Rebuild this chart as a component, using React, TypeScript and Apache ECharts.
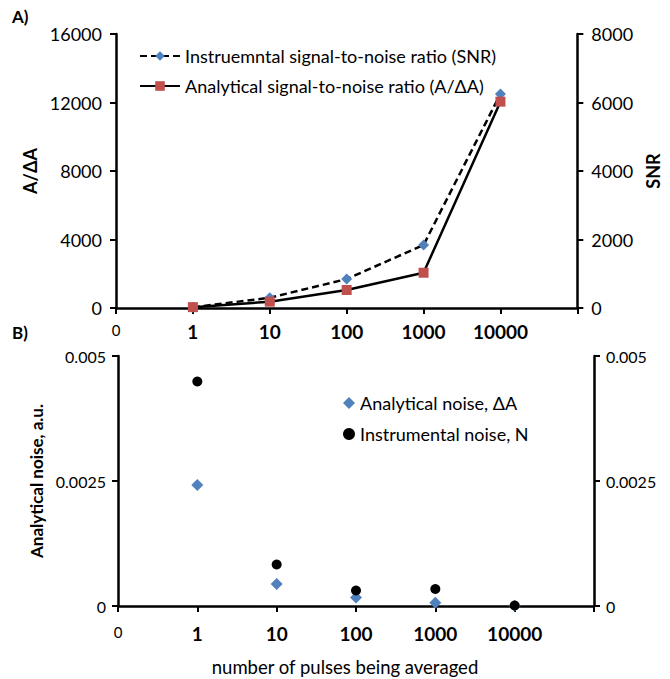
import React, { useEffect, useRef } from "react";
import * as echarts from "echarts";

const xTickLabels = ["0", "1", "10", "100", "1000", "10000", ""];
const xPositions = [1, 2, 3, 4, 5];

const snrValues = [20, 300, 845, 1840, 6250];
const adaValues = [50, 370, 1050, 2060, 12050];

const analyticalNoise = [0.00242, 0.00044, 0.00017, 0.000065, 0.000003];
const instrumentalNoise = [0.00449, 0.00083, 0.00031, 0.00034, 0.00001];

const FONT = "Lato";

const pair = (vals: number[]) => vals.map((v, i) => [xPositions[i], v]);

const xLabelFmt = (v: number) => {
  const t = xTickLabels[Math.round(v)] ?? "";
  if (t === "") return "";
  return v === 0 ? "{s|" + t + "}" : "{b|" + t + "}";
};
const plainFmt = (v: number) => String(v);

export default function App() {
  const ref = useRef<HTMLDivElement>(null);
  useEffect(() => {
    if (!ref.current) return;
    const chart = echarts.init(ref.current, null, { renderer: "svg" });
    const axisLine = { show: true, lineStyle: { color: "#000", width: 2.5 } };
    const axisTick = { show: true, inside: false, length: 6, lineStyle: { color: "#000", width: 2 } };
    const xAxisBase = (grid: number, margin: number) => ({
      type: "value",
      gridIndex: grid,
      min: 0,
      max: 6,
      interval: 1,
      axisLine,
      axisTick,
      splitLine: { show: false },
      axisLabel: {
        margin,
        formatter: xLabelFmt,
        rich: {
          s: { fontFamily: FONT, fontSize: 15, color: "#000", padding: [0, 0, 6, 0] },
          b: { fontFamily: FONT, fontSize: 19, fontWeight: "bold", color: "#000" },
        },
      },
    });
    const yLabel = (size: number, margin: number) => ({
      fontFamily: FONT,
      fontSize: size,
      color: "#000",
      margin,
      formatter: plainFmt,
    });
    const option: any = {
      animation: false,
      backgroundColor: "#fff",
      textStyle: { fontFamily: FONT, color: "#000" },
      graphic: [
        { type: "text", left: 12, top: 8, style: { text: "A)", font: "bold 17px Lato", fill: "#000" } },
        { type: "text", left: 12, top: 324, style: { text: "B)", font: "bold 17px Lato", fill: "#000" } },
      ],
      grid: [
        { left: 116, right: 83, top: 34, height: 274 },
        { left: 118, right: 76, top: 356, height: 250 },
      ],
      legend: [
        {
          orient: "vertical",
          left: 134,
          top: 42,
          itemGap: 12,
          itemWidth: 40,
          itemHeight: 12,
          textStyle: { fontFamily: FONT, fontSize: 18, color: "#000" },
          data: ["Instruemntal signal-to-noise ratio (SNR)", "Analytical signal-to-noise ratio (A/ΔA)"],
        },
        {
          orient: "vertical",
          left: 338,
          top: 389,
          itemGap: 13,
          itemWidth: 12,
          itemHeight: 12,
          textStyle: { fontFamily: FONT, fontSize: 18, color: "#000" },
          data: ["Analytical noise, ΔA", "Instrumental noise, N"],
        },
      ],
      xAxis: [xAxisBase(0, 14), {
        ...xAxisBase(1, 18),
        name: "number of pulses being averaged",
        nameLocation: "middle",
        nameGap: 51,
        nameTextStyle: { fontFamily: FONT, fontSize: 18.5, color: "#000", padding: [0, 22, 0, 0] },
      }],
      yAxis: [
        {
          type: "value",
          gridIndex: 0,
          position: "left",
          min: 0,
          max: 16000,
          interval: 4000,
          name: "A/ΔA",
          nameLocation: "middle",
          nameRotate: 90,
          nameGap: 66,
          nameTextStyle: { fontFamily: FONT, fontSize: 18, fontWeight: "bold", color: "#000" },
          axisLine,
          axisTick,
          splitLine: { show: false },
          axisLabel: yLabel(18, 14),
        },
        {
          type: "value",
          gridIndex: 0,
          position: "right",
          min: 0,
          max: 8000,
          interval: 2000,
          name: "SNR",
          nameLocation: "middle",
          nameRotate: 90,
          nameGap: 60,
          nameTextStyle: { fontFamily: FONT, fontSize: 18, fontWeight: "bold", color: "#000" },
          axisLine,
          axisTick,
          splitLine: { show: false },
          axisLabel: yLabel(18, 14),
        },
        {
          type: "value",
          gridIndex: 1,
          position: "left",
          min: 0,
          max: 0.005,
          interval: 0.0025,
          name: "Analytical noise, a.u.",
          nameLocation: "middle",
          nameRotate: 90,
          nameGap: 72,
          nameTextStyle: { fontFamily: FONT, fontSize: 17, fontWeight: "bold", color: "#000" },
          axisLine,
          axisTick,
          splitLine: { show: false },
          axisLabel: yLabel(16, 12),
        },
        {
          type: "value",
          gridIndex: 1,
          position: "right",
          min: 0,
          max: 0.005,
          interval: 0.0025,
          axisLine,
          axisTick,
          splitLine: { show: false },
          axisLabel: yLabel(16, 12),
        },
      ],
      series: [
        {
          name: "Instruemntal signal-to-noise ratio (SNR)",
          type: "line",
          xAxisIndex: 0,
          yAxisIndex: 1,
          data: pair(snrValues),
          symbol: "diamond",
          symbolSize: 11,
          itemStyle: { color: "#4F81BD" },
          lineStyle: { color: "#000", width: 2.5, type: [7, 4] },
        },
        {
          name: "Analytical signal-to-noise ratio (A/ΔA)",
          type: "line",
          xAxisIndex: 0,
          yAxisIndex: 0,
          data: pair(adaValues),
          symbol: "rect",
          symbolSize: 10,
          itemStyle: { color: "#C0504D" },
          lineStyle: { color: "#000", width: 2.5 },
        },
        {
          name: "Analytical noise, ΔA",
          type: "scatter",
          xAxisIndex: 1,
          yAxisIndex: 2,
          data: pair(analyticalNoise),
          symbol: "diamond",
          symbolSize: 12,
          itemStyle: { color: "#4F81BD", opacity: 1 },
        },
        {
          name: "Instrumental noise, N",
          type: "scatter",
          xAxisIndex: 1,
          yAxisIndex: 2,
          data: pair(instrumentalNoise),
          symbol: "circle",
          symbolSize: 10,
          itemStyle: { color: "#000", opacity: 1 },
        },
      ],
    };
    chart.setOption(option);
    return () => chart.dispose();
  }, []);
  return <div ref={ref} style={{ width: 670, height: 679, position: "absolute", left: 0, top: 0 }} />;
}
